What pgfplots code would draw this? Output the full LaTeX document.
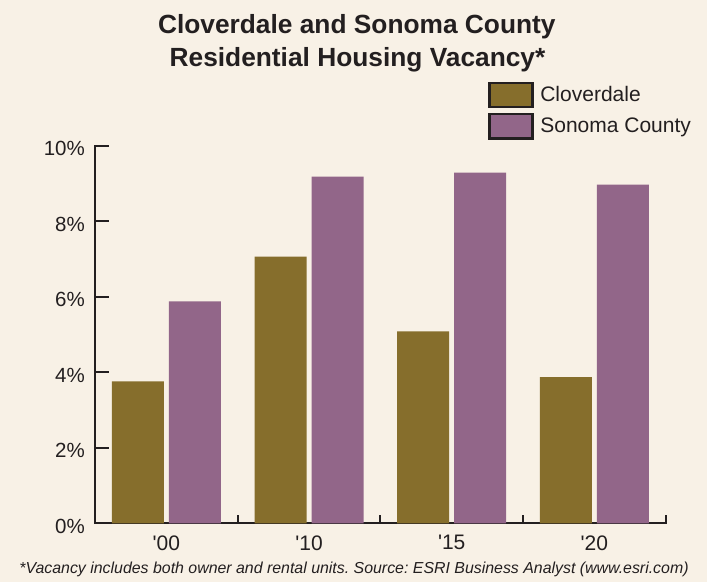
\documentclass[border=0pt]{standalone}
\usepackage{pgfplots}
\pgfplotsset{compat=1.18}
\usepackage{fontspec}
\setmainfont{Liberation Sans}[Ligatures=TeXOff]
\definecolor{bgc}{HTML}{F8F1E6}
\definecolor{clov}{HTML}{866E2C}
\definecolor{sono}{HTML}{926689}
\definecolor{axc}{HTML}{231F20}
\frenchspacing
\begin{document}
\begin{tikzpicture}[x=1pt,y=1pt]
\fill[bgc] (0,0) rectangle (707,582);
\node[font=\bfseries\fontsize{26.3}{30}\selectfont, anchor=base, text=axc, inner sep=0pt] at (356.8,548.5) {Cloverdale and Sonoma County};
\node[font=\bfseries\fontsize{26.3}{30}\selectfont, anchor=base, text=axc, inner sep=0pt] at (357.5,515.5) {Residential Housing Vacancy*};
\begin{axis}[
  at={(95pt,58.7pt)}, anchor=south west,
  scale only axis, width=570.7pt, height=377.6pt,
  ybar=5pt, bar width=52pt,
  xmin=-0.5, xmax=3.5, ymin=0, ymax=10,
  enlargelimits=false,
  axis lines*=left,
  axis line style={draw=axc, line width=1.8pt, line cap=rect},
  tick align=inside,
  xtick={0,1,2,3},
  xticklabels={{\char39 00},{\char39 10},{\char39 15},{\char39 20}},
  minor xtick={0.5,1.5,2.5,3.5},
  major x tick style={draw=none},
  minor x tick style={draw=axc, line width=1.8pt},
  minor tick length=8pt,
  ytick={0,2,4,6,8,10},
  major y tick style={draw=axc, line width=1.8pt},
  major tick length=14pt,
  yticklabel={\pgfmathprintnumber{\tick}\%},
  /pgf/number format/assume math mode=true,
  yticklabel style={font=\fontsize{20.5}{22}\selectfont, inner sep=0pt, xshift=-10pt, yshift=-2.8pt, text=axc},
  xticklabel style={font=\fontsize{21}{22}\selectfont, inner sep=0pt, anchor=north, yshift=-12pt, text=axc},
  legend style={at={(0.6885,1.1705)}, anchor=north west, draw=none, fill=none, inner sep=0pt,
    font=\fontsize{21}{22}\selectfont, row sep=4.5pt, text=axc,
    nodes={inner sep=0pt}},
  legend cell align=left,
  clip=false,
]
\addplot[fill=clov, draw=none,
  legend image code/.code={\draw[fill=clov, draw=axc, line width=2.4pt] (0pt,-12.2pt) rectangle (43pt,12.2pt); \path (51pt,0pt);}]
  coordinates {(0,3.76) (1,7.06) (2,5.08) (3,3.87)};
\addplot[fill=sono, draw=none,
  legend image code/.code={\draw[fill=sono, draw=axc, line width=2.4pt] (0pt,-12.2pt) rectangle (43pt,12.2pt); \path (51pt,0pt);}]
  coordinates {(0,5.88) (1,9.18) (2,9.29) (3,8.97)};
\legend{Cloverdale, Sonoma County}
\end{axis}
\node[font=\itshape\fontsize{15.9}{17}\selectfont, anchor=base, text=axc, inner sep=0pt] at (354,9) {*Vacancy includes both owner and rental units. Source: ESRI Business Analyst (www.esri.com)};
\end{tikzpicture}
\end{document}
